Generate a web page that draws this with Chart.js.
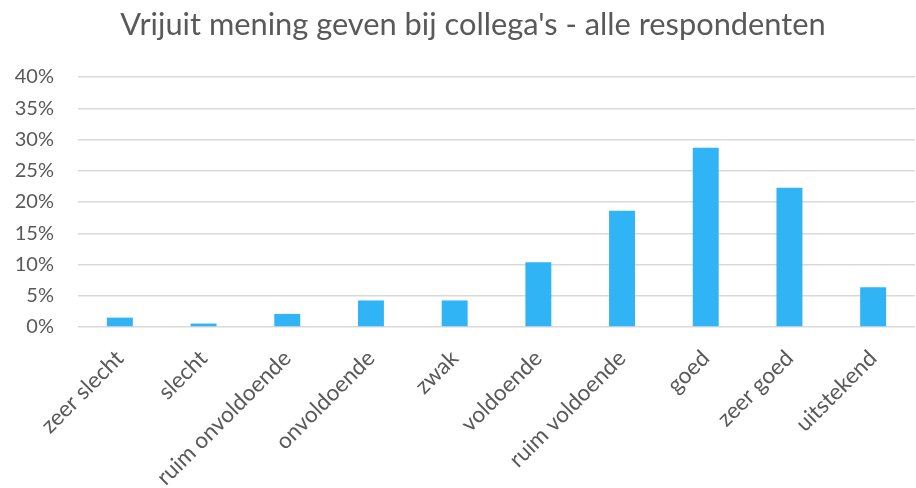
<!DOCTYPE html>
<html>
<head>
<meta charset="utf-8">
<script src="https://cdn.jsdelivr.net/npm/chart.js@4"></script>
<style>
html,body{margin:0;padding:0;background:#fff;}
#wrap{width:916px;height:488px;position:relative;}
</style>
</head>
<body>
<div id="wrap"><canvas id="c" width="916" height="488"></canvas></div>
<script>
const categories = ["zeer slecht","slecht","ruim onvoldoende","onvoldoende","zwak","voldoende","ruim voldoende","goed","zeer goed","uitstekend"];
const values = [1.5, 0.55, 2.1, 4.25, 4.25, 10.35, 18.6, 28.7, 22.3, 6.35];
const yTicks = [0,5,10,15,20,25,30,35,40];
const titleText = "Vrijuit mening geven bij collega's - alle respondenten";

const FONT = "Lato, 'Source Sans Pro', 'Open Sans', sans-serif";
const GREY = "#595959";

const titlePlugin = {
  id: 'offsetTitle',
  afterDraw(chart) {
    const ctx = chart.ctx;
    ctx.save();
    ctx.font = "normal 30.8px " + FONT;
    ctx.fillStyle = GREY;
    ctx.textAlign = 'center';
    ctx.textBaseline = 'middle';
    ctx.fillText(titleText, 473, 25);
    ctx.restore();
  }
};

new Chart(document.getElementById('c'), {
  type: 'bar',
  data: {
    labels: categories,
    datasets: [{
      data: values,
      backgroundColor: '#30B4F6',
      borderWidth: 0,
      barPercentage: 0.62,
      categoryPercentage: 0.5
    }]
  },
  plugins: [titlePlugin],
  options: {
    responsive: false,
    animation: false,
    layout: { padding: { left: 0, right: 1, top: 77, bottom: 0 } },
    plugins: {
      legend: { display: false },
      tooltip: { enabled: false },
      title: { display: false }
    },
    scales: {
      x: {
        grid: { display: false, drawTicks: false },
        border: { display: false },
        ticks: {
          color: GREY,
          font: { family: FONT, size: 22.5 },
          maxRotation: 45,
          minRotation: 45,
          autoSkip: false,
          padding: 18
        },
        afterFit: (s) => { s.height = 161; }
      },
      y: {
        min: 0,
        max: 40,
        afterBuildTicks: (s) => { s.ticks = yTicks.map(v => ({ value: v })); },
        grid: { color: '#d9d9d9', lineWidth: 1.5, drawTicks: false },
        border: { display: false },
        ticks: {
          color: GREY,
          font: { family: FONT, size: 20 },
          padding: 24,
          callback: (v) => v + '%'
        },
        afterFit: (s) => { s.width = 78; }
      }
    }
  }
});
</script>
</body>
</html>
